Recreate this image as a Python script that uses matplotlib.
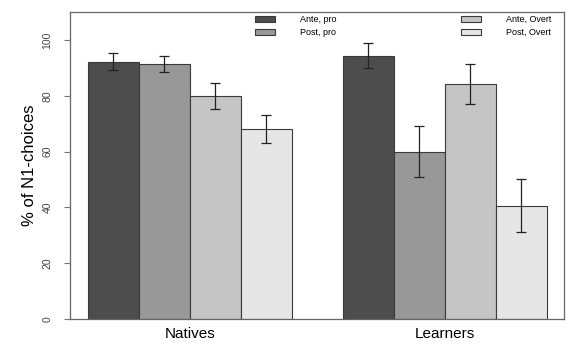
import numpy as np
import matplotlib.pyplot as plt

plt.rcParams['font.family'] = ['Liberation Sans', 'DejaVu Sans']

groups = ['Natives', 'Learners']
conditions = ['Ante, pro', 'Post, pro', 'Ante, Overt', 'Post, Overt']
colors = ['#4d4d4d', '#989898', '#c5c5c5', '#e6e6e6']

# mean % of N1 choices per condition, one list per group
means = {
    'Natives': [92.2, 91.4, 80.0, 68.0],
    'Learners': [94.4, 60.0, 84.1, 40.6],
}
errors = {
    'Natives': [3.0, 3.0, 4.7, 5.0],
    'Learners': [4.4, 9.2, 7.2, 9.4],
}

fig = plt.figure(figsize=(5.67, 3.47), dpi=100)
ax = fig.add_axes([0.1235, 0.0807, 0.8712, 0.8847])

bar_w = 1.0
handles = []
for g, grp in enumerate(groups):
    start = 0.35 + g * 5
    x = start + np.arange(4) * bar_w + bar_w / 2
    bars = ax.bar(x, means[grp], width=bar_w, color=colors,
                  edgecolor='#3a3a3a', linewidth=0.8, zorder=2)
    ax.errorbar(x, means[grp], yerr=errors[grp], fmt='none',
                ecolor='#222222', elinewidth=0.9, capsize=3.6,
                capthick=0.9, zorder=3)
    if g == 0:
        handles = list(bars)

ax.set_xlim(0, 9.69)
ax.set_ylim(0, 110)
ax.set_xticks([0.35 + 2, 5.35 + 2])
ax.set_xticklabels(groups, fontsize=11)
ax.tick_params(axis='x', length=0, pad=6)

ax.set_yticks([0, 20, 40, 60, 80, 100])
ax.set_yticklabels(['0', '20', '40', '60', '80', '100'], rotation=90,
                   va='center', fontsize=7.5, color='#444444')
ax.tick_params(axis='y', length=4.5, width=0.8, color='#777777', pad=8)
ax.set_ylabel('% of N1-choices', fontsize=12, labelpad=4)

for s in ax.spines.values():
    s.set_color('#666666')
    s.set_linewidth(0.9)

# two legend columns, placed separately
leg_kw = dict(frameon=False, fontsize=6.5, handlelength=2.2, handleheight=0.6,
              handletextpad=2.8, labelspacing=0.45, borderpad=0,
              borderaxespad=0, loc='upper left')
leg1 = ax.legend(handles[:2], conditions[:2], bbox_to_anchor=(0.3745, 0.99),
                 **leg_kw)
ax.add_artist(leg1)
ax.legend(handles[2:], conditions[2:], bbox_to_anchor=(0.7915, 0.99),
          **leg_kw)

fig.savefig('out.png', dpi=100)
